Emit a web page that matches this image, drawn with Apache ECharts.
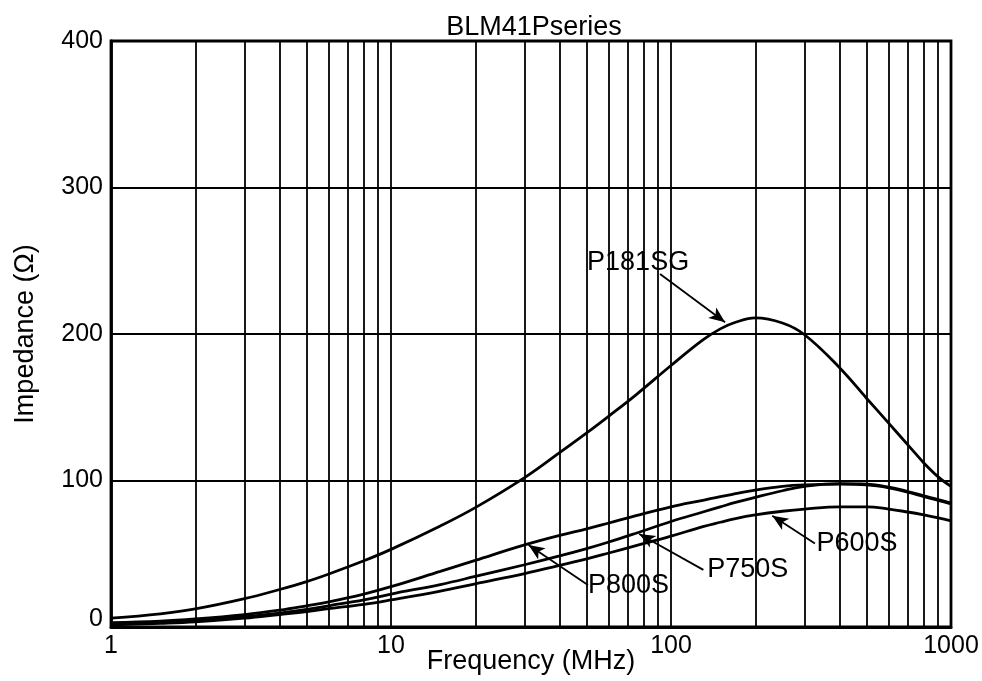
<!DOCTYPE html>
<html>
<head>
<meta charset="utf-8">
<script src="https://cdn.jsdelivr.net/npm/echarts@6/dist/echarts.min.js"></script>
<style>
html,body{margin:0;padding:0;background:#fff;}
#chart{width:982px;height:681px;}
</style>
</head>
<body>
<div id="chart"></div>
<script>
// Frequencies (MHz) at which curve values were read
const freq = [1, 1.5, 2, 3, 4, 5, 6, 8, 10, 15, 20, 30, 40, 50, 60, 75, 100, 130, 150, 170, 200, 250, 300, 400, 500, 600, 700, 800, 900, 1000];
// Impedance (ohm) per part
const p181sg = [6, 9, 12.3, 19.3, 25.6, 31, 36.2, 45.2, 53, 69, 81.5, 102, 119, 132.5, 144, 158.5, 178.5, 196, 203.5, 208, 211, 207.5, 199.5, 177, 156, 139, 124.5, 112, 102.5, 96];
const p800s  = [3, 4, 5.5, 8.5, 11.5, 14.5, 17.2, 22.5, 27.5, 38, 45.5, 56, 62.5, 67, 71, 76, 82, 86.5, 89, 91, 93.5, 96, 97, 97.5, 97, 95, 92, 89, 86.5, 84];
const p750s  = [2, 3, 4.5, 7, 9.5, 12, 14.5, 18.5, 22.5, 29, 34.5, 42.5, 48.5, 53.5, 58, 64, 72, 78.5, 82, 85, 88.5, 93, 96, 97.8, 97.5, 95.5, 92.5, 89.5, 87, 84.5];
const p600s  = [1.5, 2.5, 3.5, 6, 8.5, 10.5, 12.5, 15.5, 18.5, 24.5, 29.5, 36.5, 42, 46.5, 50.5, 55.5, 62, 68.5, 71.5, 74, 76.5, 79, 80.5, 82, 82, 80.5, 78.5, 76.5, 74.5, 72.5];
// Minor log grid lines
const minorGrid = [2,3,4,5,6,7,8,9,20,30,40,50,60,70,80,90,200,300,400,500,600,700,800,900];
// Tick labels
const yTicks = [0, 100, 200, 300, 400];
const xTicks = [1, 10, 100, 1000];
// Annotations: [label, labelFreq, labelValue, arrowStartFreq, arrowStartValue, tipFreq, tipValue]
const annP181SG = ['P181SG', 76.3, 248.5, 91.4, 241, 156, 208];
const annP800S  = ['P800S', 70.5, 28, 50.5, 28.7, 31, 56];
const annP750S  = ['P750S', 188, 39, 130.5, 39, 77, 63.5];
const annP600S  = ['P600S', 461.5, 57.3, 326.6, 57, 230, 76];

const FONT = '"Liberation Sans", Arial, Helvetica, sans-serif';

function pairs(vals){ return freq.map((f,i)=>[f, vals[i]]); }

function annot(a){
  return {
    markPoint: {
      silent: true,
      symbol: 'circle', symbolSize: 1,
      itemStyle: {color: 'rgba(0,0,0,0)'},
      label: {show: true, position: 'inside', formatter: '{b}', color: '#000', fontSize: 27, fontFamily: FONT},
      data: [{name: a[0], coord: [a[1], a[2]]}]
    },
    markLine: {
      silent: true,
      symbol: ['none', 'arrow'],
      symbolSize: [10, 16],
      label: {show: false},
      lineStyle: {color: '#000', width: 1.8, type: 'solid'},
      data: [[{coord: [a[3], a[4]]}, {coord: [a[5], a[6]]}]]
    }
  };
}

function curve(name, vals, ann){
  return Object.assign({
    name: name,
    type: 'line',
    data: pairs(vals),
    smooth: 0.4,
    showSymbol: false,
    symbol: 'none',
    lineStyle: {color: '#000', width: 2.8},
    itemStyle: {color: '#000'},
    z: 5
  }, ann ? annot(ann) : {});
}

const chart = echarts.init(document.getElementById('chart'));
const option = {
  animation: false,
  backgroundColor: '#fff',
  title: {
    text: 'BLM41Pseries',
    left: 529, top: 9, textAlign: 'center',
    textStyle: {fontSize: 27, fontWeight: 'normal', color: '#000', fontFamily: FONT}
  },
  grid: {
    left: 111, right: 31, top: 41, bottom: 54,
    show: true, borderColor: '#000', borderWidth: 2.8,
    containLabel: false, outerBoundsMode: 'none'
  },
  xAxis: {
    type: 'log', logBase: 10, min: xTicks[0], max: xTicks[xTicks.length-1],
    name: 'Frequency (MHz)', nameLocation: 'middle', nameGap: 21, nameMoveOverlap: false,
    nameTextStyle: {fontSize: 27, color: '#000', fontFamily: FONT, verticalAlign: 'top'},
    axisLine: {show: true, lineStyle: {color: '#000', width: 2.8}},
    axisTick: {show: false},
    axisLabel: {fontSize: 25, color: '#000', fontFamily: FONT, margin: 7,
      formatter: v => xTicks.includes(Math.round(v)) ? String(Math.round(v)) : ''},
    splitLine: {show: true, lineStyle: {color: '#000', width: 1.8}},
    minorTick: {show: false}, minorSplitLine: {show: false}
  },
  yAxis: {
    type: 'value', min: yTicks[0], max: yTicks[yTicks.length-1], interval: 100,
    name: 'Impedance (Ω)', nameLocation: 'middle', nameGap: 72, nameRotate: 90, nameMoveOverlap: false,
    nameTextStyle: {fontSize: 27, color: '#000', fontFamily: FONT},
    axisLine: {show: true, lineStyle: {color: '#000', width: 2.8}},
    axisTick: {show: false},
    axisLabel: {fontSize: 25, color: '#000', fontFamily: FONT, margin: 8,
      formatter: v => v === 0 ? '{z|0}' : String(v),
      rich: {z: {fontSize: 25, color: '#000', fontFamily: FONT, padding: [0, 0, 16, 0]}}},
    splitLine: {show: true, lineStyle: {color: '#000', width: 1.8}}
  },
  series: [
    {
      name: 'grid', type: 'line', data: [], silent: true,
      markLine: {
        silent: true, symbol: ['none','none'], label: {show: false},
        lineStyle: {color: '#000', width: 1.8, type: 'solid'},
        data: minorGrid.map(v => ({xAxis: v}))
      },
      z: 1
    },
    curve('P181SG', p181sg, annP181SG),
    curve('P800S', p800s, annP800S),
    curve('P750S', p750s, annP750S),
    curve('P600S', p600s, annP600S)
  ]
};
chart.setOption(option);
</script>
</body>
</html>
